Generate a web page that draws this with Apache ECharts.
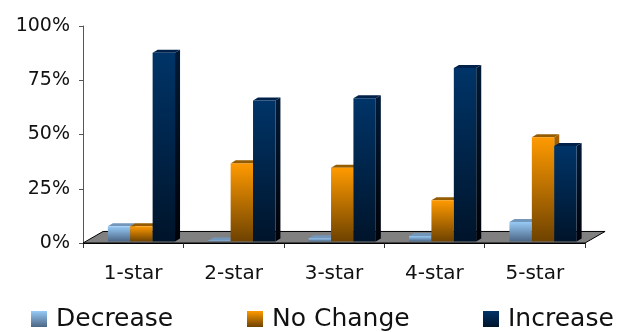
<!DOCTYPE html>
<html>
<head>
<meta charset="utf-8">
<style>
  html, body { margin: 0; padding: 0; background: #fff; }
  #chart { width: 631px; height: 332px; }
</style>
<script src="https://cdn.jsdelivr.net/npm/echarts@6/dist/echarts.min.js"></script>
</head>
<body>
<div id="chart"></div>
<script>
// Share of hotels by star rating whose figure decreased / did not change / increased
const categories = ['1-star', '2-star', '3-star', '4-star', '5-star'];
const decrease = [7, 0.4, 1.5, 2.5, 9];
const noChange = [7, 36, 34, 19, 48];
const increase = [87, 65, 66, 80, 44];
const yTickLabels = { 0: '0%', 25: '25%', 50: '50%', 75: '75%', 100: '100%' };

const FONT = 'DejaVu Sans';

function vGrad(top, bottom) {
  return new echarts.graphic.LinearGradient(0, 0, 0, 1, [
    { offset: 0, color: top },
    { offset: 1, color: bottom }
  ]);
}

const looks = {
  decrease: { front: ['#97cbf7', '#4b6584'], side: ['#5f7fa0', '#2d3f55'], top: '#7396bb' },
  noChange: { front: ['#ff9a00', '#6e4200'], side: ['#a86200', '#4a2c00'], top: '#945b00' },
  increase: { front: ['#003468', '#00142a'], side: ['#001a36', '#000208'], top: '#00214a' }
};

// Draws one bar as a prism: front face, right side and top, placed in its
// slot of the category band and lifted onto the floor.
function prism(slot, look) {
  return function (params, api) {
    const i = api.value(0);
    const v = api.value(1);
    const band = api.size([1, 0])[0];
    const base = api.coord([i, 0]);
    const tip = api.coord([i, v]);
    const w = band * 0.223;
    const dx = band * 0.05;
    const dy = -band * 0.03;
    const lift = 1.5;
    const x0 = base[0] + band * 0.082 - 1.5 * w + slot * w;
    const x1 = x0 + w;
    const yb = base[1] - lift;
    const yt = tip[1] - lift;
    return {
      type: 'group',
      children: [
        {
          type: 'polygon',
          shape: { points: [[x1, yb], [x1 + dx, yb + dy], [x1 + dx, yt + dy], [x1, yt]] },
          style: { fill: vGrad(look.side[0], look.side[1]) }
        },
        {
          type: 'polygon',
          shape: { points: [[x0, yt], [x1, yt], [x1 + dx, yt + dy], [x0 + dx, yt + dy]] },
          style: { fill: look.top }
        },
        {
          type: 'rect',
          shape: { x: x0, y: yt, width: w, height: Math.max(yb - yt, 0) },
          style: { fill: vGrad(look.front[0], look.front[1]) }
        }
      ]
    };
  };
}

function floor(params, api) {
  const cs = params.coordSys;
  const band = api.size([1, 0])[0];
  const dx = band * 0.2;
  const dy = -band * 0.115;
  const xl = cs.x, xr = cs.x + cs.width, y = cs.y + cs.height;
  return {
    type: 'polygon',
    shape: { points: [[xl, y], [xr, y], [xr + dx, y + dy], [xl + dx, y + dy]] },
    style: { fill: '#808080', stroke: '#000', lineWidth: 1 }
  };
}

const pairs = arr => arr.map((v, i) => [i, v]);

const legendCommon = {
  icon: 'rect',
  itemWidth: 16,
  itemHeight: 16,
  padding: 0,
  top: 305,
  selectedMode: false,
  textStyle: { fontFamily: FONT, fontSize: 25, color: '#111', padding: [0, 0, 0, 4], lineHeight: 28 }
};

const chart = echarts.init(document.getElementById('chart'), null, { renderer: 'canvas' });
chart.setOption({
  animation: false,
  backgroundColor: '#fff',
  grid: { left: 83, top: 26, right: 46, bottom: 89, outerBoundsMode: 'none' },
  legend: [
    Object.assign({ data: ['Decrease'], left: 31 }, legendCommon),
    Object.assign({ data: ['No Change'], left: 247 }, legendCommon),
    Object.assign({ data: ['Increase'], left: 483 }, legendCommon)
  ],
  xAxis: {
    type: 'category',
    data: categories,
    boundaryGap: true,
    axisLine: { lineStyle: { color: '#000', width: 1 } },
    axisTick: { show: true, length: 5, lineStyle: { color: '#333' } },
    axisLabel: { fontFamily: FONT, fontSize: 20, color: '#111', margin: 21 },
    splitLine: { show: false }
  },
  yAxis: {
    type: 'value',
    min: 0,
    max: 100,
    interval: 25,
    axisLine: { show: true, lineStyle: { color: '#555', width: 1 } },
    axisTick: { show: true, length: 4, lineStyle: { color: '#555' } },
    axisLabel: {
      fontFamily: FONT, fontSize: 19, color: '#111', margin: 13,
      formatter: v => yTickLabels[v] || ''
    },
    splitLine: { show: false }
  },
  series: [
    { type: 'custom', name: 'floor', z: 1, silent: true, data: [[0, 0]], renderItem: floor },
    {
      type: 'custom', name: 'Decrease', z: 2,
      itemStyle: { color: vGrad(looks.decrease.front[0], looks.decrease.front[1]) },
      encode: { x: 0, y: 1 }, data: pairs(decrease), renderItem: prism(0, looks.decrease)
    },
    {
      type: 'custom', name: 'No Change', z: 3,
      itemStyle: { color: vGrad(looks.noChange.front[0], looks.noChange.front[1]) },
      encode: { x: 0, y: 1 }, data: pairs(noChange), renderItem: prism(1, looks.noChange)
    },
    {
      type: 'custom', name: 'Increase', z: 4,
      itemStyle: { color: vGrad(looks.increase.front[0], looks.increase.front[1]) },
      encode: { x: 0, y: 1 }, data: pairs(increase), renderItem: prism(2, looks.increase)
    }
  ]
});
</script>
</body>
</html>
